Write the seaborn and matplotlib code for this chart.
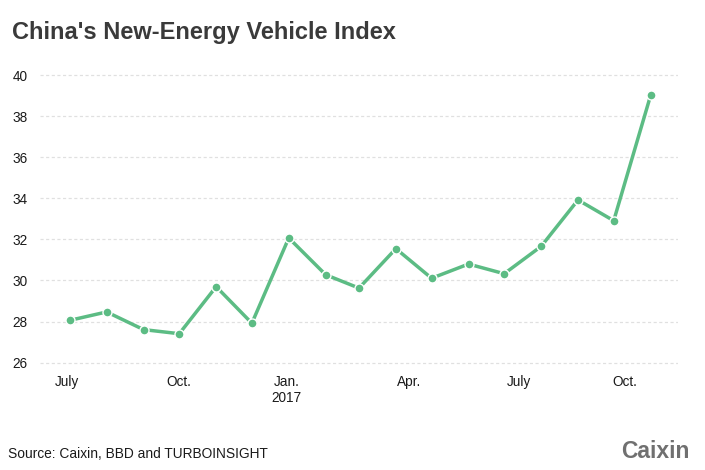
import matplotlib
matplotlib.use("Agg")
import matplotlib.pyplot as plt
import seaborn as sns
import pandas as pd

months = ["2016-07-01", "2016-08-01", "2016-09-01", "2016-10-01", "2016-11-01",
          "2016-12-01", "2017-01-01", "2017-02-01", "2017-03-01", "2017-04-01",
          "2017-05-01", "2017-06-01", "2017-07-01", "2017-08-01", "2017-09-01",
          "2017-10-01", "2017-11-01"]
index_values = [28.06, 28.47, 27.61, 27.41, 29.70, 27.92, 32.07, 30.28, 29.63,
                31.55, 30.11, 30.80, 30.33, 31.66, 33.92, 32.91, 39.01]
tick_dates = ["2016-06-29", "2016-10-01", "2016-12-30", "2017-04-12",
              "2017-07-13", "2017-10-10"]
tick_labels = ["July", "Oct.", "Jan.\n2017", "Apr.", "July", "Oct."]
y_ticks = [26, 28, 30, 32, 34, 36, 38, 40]

df = pd.DataFrame({"month": pd.to_datetime(months), "value": index_values})

sns.set_theme(style="white")
plt.rcParams["font.family"] = ["Liberation Sans", "DejaVu Sans"]

fig = plt.figure(figsize=(7.05, 4.70), dpi=100)
ax = fig.add_axes([40 / 705, 0.2196, (678 - 40) / 705, 0.8491 - 0.2196])

green = "#5cbc84"
sns.lineplot(data=df, x="month", y="value", ax=ax, color=green, linewidth=2.5,
             marker="o", markersize=6.5, markeredgecolor="white",
             markeredgewidth=1.0, zorder=3)

ax.set_xlim(pd.Timestamp("2016-06-06"), pd.Timestamp("2017-11-24"))
ax.set_ylim(25.8, 40.2)
ax.set_yticks(y_ticks)
ax.set_yticklabels([str(v) for v in y_ticks])
ax.set_xticks(pd.to_datetime(tick_dates))
ax.set_xticklabels(tick_labels)

ax.grid(axis="y", color="#e0e0e0", linestyle=(0, (2.5, 2)), linewidth=0.9)
ax.grid(axis="x", visible=False)
for s in ax.spines.values():
    s.set_visible(False)
ax.tick_params(axis="y", length=0, pad=9, labelsize=9.8, labelcolor="#1a1a1a")
ax.tick_params(axis="x", length=0, pad=6, labelsize=9.8, labelcolor="#1a1a1a")
ax.set_xlabel("")
ax.set_ylabel("")

fig.text(12 / 705, 1 - 32 / 470, "China's New-Energy Vehicle Index",
         fontsize=17, fontweight="bold", color="#3a3a3a", va="center", ha="left")
fig.text(8 / 705, 1 - 454 / 470, "Source: Caixin, BBD and TURBOINSIGHT",
         fontsize=9.9, color="#1a1a1a", va="center", ha="left")
fig.text(689 / 705, 1 - 452 / 470, "Caixin", fontsize=16.5, fontweight="bold",
         color="#707070", va="center", ha="right")

fig.savefig("out.png", dpi=100, facecolor="white")
